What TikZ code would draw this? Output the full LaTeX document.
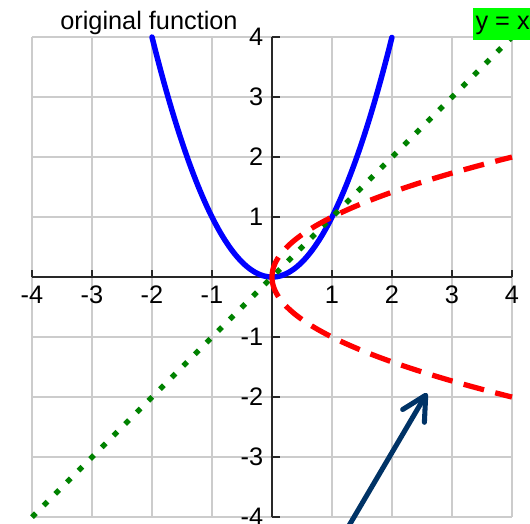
\documentclass[tikz,border=0pt]{standalone}
\usepackage{fontspec}
\setmainfont{Liberation Sans}
\usetikzlibrary{arrows.meta}
\definecolor{gridgray}{RGB}{204,204,204}
\definecolor{axisblack}{RGB}{40,40,40}
\definecolor{dotgreen}{RGB}{0,130,0}
\definecolor{boxgreen}{RGB}{0,255,0}
\definecolor{navy}{RGB}{0,51,102}
\tikzset{
  gridline/.style={draw=gridgray, line width=1pt},
  axisline/.style={draw=axisblack, line width=0.9pt},
  ticklabel/.style={font=\fontsize{12}{14}\selectfont, inner sep=0pt},
  curveblue/.style={draw=blue, line width=2.6pt, line cap=round, line join=round},
  curvered/.style={draw=red, line width=2.5pt, dash pattern=on 10pt off 5.5pt},
  curvegreen/.style={draw=dotgreen, line width=2.5pt, dash pattern=on 2.6pt off 5.2pt},
  pointer/.style={draw=navy, line width=2.4pt, line cap=round,
    -{Straight Barb[length=0.4cm, width=0.42cm, line cap=round, line join=round]}},
}
\begin{document}
\begin{tikzpicture}
\useasboundingbox (-4.533,-4.1) rectangle (4.3,4.617);
\clip (-4.533,-4.1) rectangle (4.3,4.617);
\fill[white] (-4.533,-4.1) rectangle (4.3,4.617);
% grid
\foreach \i in {-4,...,4} {
  \draw[gridline] (\i,-4) -- (\i,4);
  \draw[gridline] (-4,\i) -- (4,\i);
}
% axes
\draw[axisline] (-4,0) -- (4,0);
\draw[axisline] (0,-4) -- (0,4);
\foreach \i in {-4,-3,-2,-1,1,2,3,4} {
  \draw[axisline] (\i,0) -- (\i,0.12);
  \draw[axisline] (0,\i) -- (0.13,\i);
  \node[ticklabel] (xl\i) at (\i,-0.3) {\i};
  \node[ticklabel, anchor=east] (yl\i) at (-0.14,\i) {\i};
}
% curves
\draw[curveblue] plot[domain=-2:2, samples=120] (\x,{\x*\x});
\draw[curvegreen] (-4,-4) -- (4,4);
\draw[curvered] plot[domain=0:2, samples=80] ({\x*\x},{\x});
\draw[curvered] plot[domain=0:2, samples=80] ({\x*\x},{-\x});
% labels
\node[font=\fontsize{12}{14}\selectfont, anchor=base, inner sep=0pt] (title) at (-2.05,4.13) {original function};
\node[fill=boxgreen, anchor=west, font=\fontsize{12}{14}\selectfont, text height=8.5pt, text depth=3pt, inner xsep=1pt, inner ysep=2pt] (ylab) at (3.35,4.217) {y = x};
% arrow
\coordinate (tail) at (1.22,-4.25);
\coordinate (tip) at (2.583,-1.933);
\draw[pointer] (tail) -- (tip);
\end{tikzpicture}
\end{document}
